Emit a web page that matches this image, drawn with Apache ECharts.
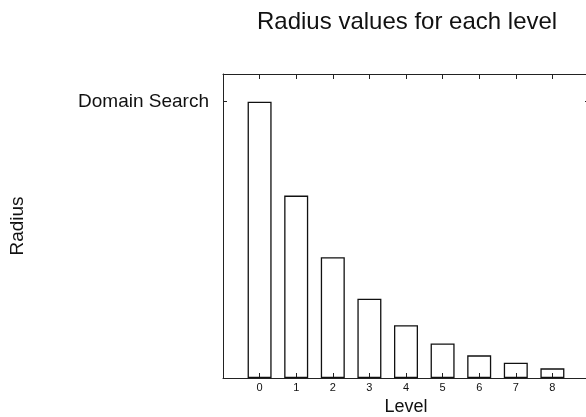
<!DOCTYPE html>
<html>
<head>
<meta charset="utf-8">
<script src="https://cdn.jsdelivr.net/npm/echarts@6/dist/echarts.min.js"></script>
<style>
  html, body { margin: 0; padding: 0; background: #fff; }
  #chart { width: 586px; height: 417px; }
</style>
</head>
<body>
<div id="chart"></div>
<script>
// levels and radius values (relative, level 0 = domain search radius)
const levels = [0, 1, 2, 3, 4, 5, 6, 7, 8]
const radius = [1.0, 0.66, 0.437, 0.287, 0.191, 0.125, 0.082, 0.055, 0.035]
const yTickValues = [1.0]
const yTickLabels = ['Domain Search']

const font = 'Liberation Sans, Arial, Helvetica, sans-serif'
const lineColor = '#222'

const myChart = echarts.init(document.getElementById('chart'), null, { renderer: 'canvas' })
const option = {
  animation: false,
  backgroundColor: '#fff',
  title: {
    text: 'Radius values for each level',
    left: 252,
    top: 5,
    textStyle: { fontFamily: font, fontSize: 24, fontWeight: 'normal', color: '#111' }
  },
  grid: {
    left: 223,
    top: 74,
    right: -3,
    bottom: 39,
    containLabel: false,
    outerBoundsMode: 'none'
  },
  xAxis: [
    {
      type: 'value',
      min: -1,
      max: 9,
      interval: 1,
      position: 'bottom',
      name: 'Level',
      nameLocation: 'middle',
      nameGap: 15,
      nameTextStyle: { fontFamily: font, fontSize: 18, color: '#111' },
      axisLine: { show: true, onZero: false, lineStyle: { color: lineColor, width: 1 } },
      axisTick: { show: true, inside: true, length: 5, customValues: levels, lineStyle: { color: lineColor } },
      axisLabel: { customValues: levels, margin: 4, fontFamily: font, fontSize: 11, color: '#111' },
      splitLine: { show: false }
    },
    {
      type: 'value',
      min: -1,
      max: 9,
      interval: 1,
      position: 'top',
      axisLine: { show: true, onZero: false, lineStyle: { color: lineColor, width: 1 } },
      axisTick: { show: true, inside: true, length: 5, customValues: levels, lineStyle: { color: lineColor } },
      axisLabel: { show: false },
      splitLine: { show: false }
    }
  ],
  yAxis: [
    {
      type: 'value',
      min: 0,
      max: 1.1,
      position: 'left',
      name: 'Radius',
      nameLocation: 'middle',
      nameRotate: 90,
      nameGap: 196,
      nameTextStyle: { fontFamily: font, fontSize: 19, color: '#111' },
      axisLine: { show: true, onZero: false, lineStyle: { color: lineColor, width: 1 } },
      axisTick: { show: true, inside: true, length: 4, customValues: yTickValues, lineStyle: { color: lineColor } },
      axisLabel: {
        customValues: yTickValues,
        margin: 14,
        fontFamily: font,
        fontSize: 19,
        color: '#111',
        formatter: function (v) {
          return yTickLabels[yTickValues.indexOf(v)] || ''
        }
      },
      splitLine: { show: false }
    },
    {
      type: 'value',
      min: 0,
      max: 1.1,
      position: 'right',
      axisLine: { show: true, onZero: false, lineStyle: { color: lineColor, width: 1 } },
      axisTick: { show: true, inside: true, length: 4, customValues: yTickValues, lineStyle: { color: lineColor } },
      axisLabel: { show: false },
      splitLine: { show: false }
    }
  ],
  series: [
    {
      type: 'bar',
      xAxisIndex: 0,
      yAxisIndex: 0,
      barWidth: 24,
      data: levels.map((l, i) => [l, radius[i]]),
      // hollow bars so the inner ticks show through
      itemStyle: { color: 'rgba(255,255,255,0)', borderColor: '#111', borderWidth: 1.3 },
      emphasis: { disabled: true }
    }
  ]
}
myChart.setOption(option)
window.addEventListener('resize', function () {
  myChart.resize()
})
</script>
</body>
</html>
